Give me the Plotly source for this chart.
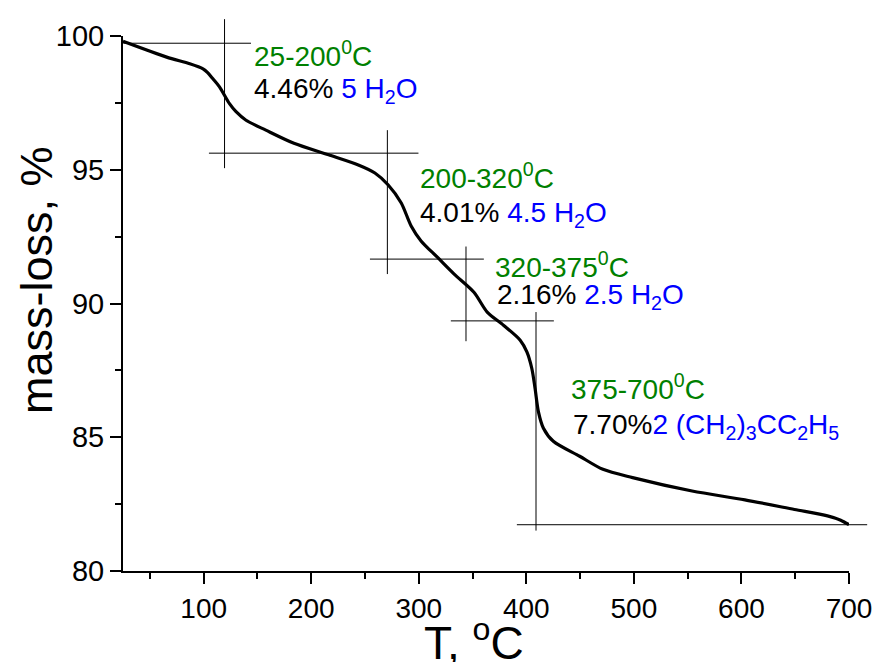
import plotly.graph_objects as go

# ---- data ----
T = [25, 65.6, 87.1, 99.4, 103.7, 108.6, 114.7, 124.0, 130.1, 139.4, 157.8, 183.9, 216.1,
     243.8, 259.2, 271.4, 283.7, 292.9, 302.1, 317.5, 332.9, 351.3, 363.6, 379.0,
     394.3, 400.5, 405.1, 408.1, 411.2, 415.9, 425.1, 449.6, 471.2, 498.8, 554.1,
     603.2, 649.3, 680.0, 692.3, 700]
mass = [99.80, 99.21, 98.96, 98.77, 98.63, 98.40, 98.10, 97.47, 97.17, 96.85, 96.48, 95.99,
        95.56, 95.18, 94.88, 94.44, 93.76, 92.90, 92.34, 91.72, 91.10, 90.42, 89.68,
        89.18, 88.63, 88.19, 87.57, 86.83, 85.96, 85.34, 84.85, 84.29, 83.80, 83.49,
        82.99, 82.66, 82.30, 82.06, 81.90, 81.73]

x_ticks = [100, 200, 300, 400, 500, 600, 700]
y_ticks = [80, 85, 90, 95, 100]

# tangent-construction guide lines (horizontal: y, x0, x1 ; vertical: x, y0, y1)
guide_h_y = [99.73, 95.62, 91.66, 89.35, 81.73]
guide_h_x0 = [25.3, 104.9, 254.6, 329.8, 391.2]
guide_h_x1 = [144.0, 299.7, 360.5, 425.6, 716.9]
guide_v_x = [119.4, 270.8, 343.9, 409.0]
guide_v_y0 = [100.63, 96.48, 92.13, 89.68]
guide_v_y1 = [95.06, 91.10, 88.59, 81.51]

step_ranges = ["25-200", "200-320", "320-375", "375-700"]
step_loss = ["4.46%", "4.01%", "2.16%", "7.70%"]
step_species = ["5 H<sub>2</sub>O", "4.5 H<sub>2</sub>O", "2.5 H<sub>2</sub>O",
                "2 (CH<sub>2</sub>)<sub>3</sub>CC<sub>2</sub>H<sub>5</sub>"]
step_sep = [" ", " ", " ", ""]
# label anchor positions (data units)
lab1_x = [145.2, 299.1, 369.1, 439.8]
lab1_y = [98.58, 94.03, 90.68, 86.13]
lab2_x = [145.2, 299.1, 371.0, 441.9]
lab2_y = [98.68, 94.05, 90.98, 86.12]

X0, X1 = 25, 700
Y0, Y1 = 80, 100

FONT = "Liberation Sans, Arial, sans-serif"
GREEN = "#008000"
BLUE = "#0000FF"

fig = go.Figure()
fig.add_trace(go.Scatter(x=T, y=mass, mode="lines",
                         line=dict(color="black", width=3.2, shape="spline", smoothing=0.8),
                         showlegend=False, hoverinfo="skip"))


def fx(v):
    return (v - X0) / (X1 - X0)


def fy(v):
    return (v - Y0) / (Y1 - Y0)


shapes = []
for y, a, b in zip(guide_h_y, guide_h_x0, guide_h_x1):
    shapes.append(dict(type="line", xref="x domain", yref="y domain",
                       x0=fx(a), x1=fx(b), y0=fy(y), y1=fy(y),
                       line=dict(color="black", width=1)))
for x, a, b in zip(guide_v_x, guide_v_y0, guide_v_y1):
    shapes.append(dict(type="line", xref="x domain", yref="y domain",
                       x0=fx(x), x1=fx(x), y0=fy(a), y1=fy(b),
                       line=dict(color="black", width=1)))

annotations = []
for i in range(4):
    annotations.append(dict(
        x=lab1_x[i], y=lab1_y[i], xref="x", yref="y", xanchor="left", yanchor="bottom",
        text=f"{step_ranges[i]}<sup>0</sup>C", showarrow=False,
        font=dict(family=FONT, size=28, color=GREEN)))
    annotations.append(dict(
        x=lab2_x[i], y=lab2_y[i], xref="x", yref="y", xanchor="left", yanchor="top",
        text=f"{step_loss[i]}{step_sep[i]}<span style='color:{BLUE}'>{step_species[i]}</span>",
        showarrow=False, font=dict(family=FONT, size=28, color="black")))

# axis titles
annotations.append(dict(x=-0.120, y=0.5436, xref="paper", yref="paper",
                        xanchor="center", yanchor="middle", textangle=-90,
                        text="mass-loss, %", showarrow=False,
                        font=dict(family=FONT, size=45, color="black")))
annotations.append(dict(x=0.4836, y=-0.129, xref="paper", yref="paper",
                        xanchor="center", yanchor="middle",
                        text="T, <sup>o</sup>C", showarrow=False,
                        font=dict(family=FONT, size=46, color="black")))

# the page body adds an 8 px margin; size the figure so the page fits the 884x670 window
fig.update_layout(
    width=876, height=654, autosize=False,
    margin=dict(l=115, r=29, t=24, b=91),
    paper_bgcolor="white", plot_bgcolor="white",
    font=dict(family=FONT, color="black"),
    shapes=shapes, annotations=annotations,
    xaxis=dict(range=[X0, X1], tickvals=x_ticks, ticks="outside", ticklen=11, tickwidth=2,
               tickcolor="black", showline=True, linewidth=2, linecolor="black",
               showgrid=False, zeroline=False, tickfont=dict(size=28, family=FONT),
               minor=dict(dtick=50, tick0=0, ticks="outside", ticklen=6, tickwidth=2,
                          tickcolor="black", showgrid=False)),
    yaxis=dict(range=[Y0, Y1], tickvals=y_ticks, ticks="outside", ticklen=11, tickwidth=2,
               tickcolor="black", showline=True, linewidth=2, linecolor="black",
               showgrid=False, zeroline=False, tickfont=dict(size=29, family=FONT),
               minor=dict(dtick=2.5, tick0=0, ticks="outside", ticklen=6, tickwidth=2,
                          tickcolor="black", showgrid=False)),
)

fig.write_html("out.html", config={"displayModeBar": False})
